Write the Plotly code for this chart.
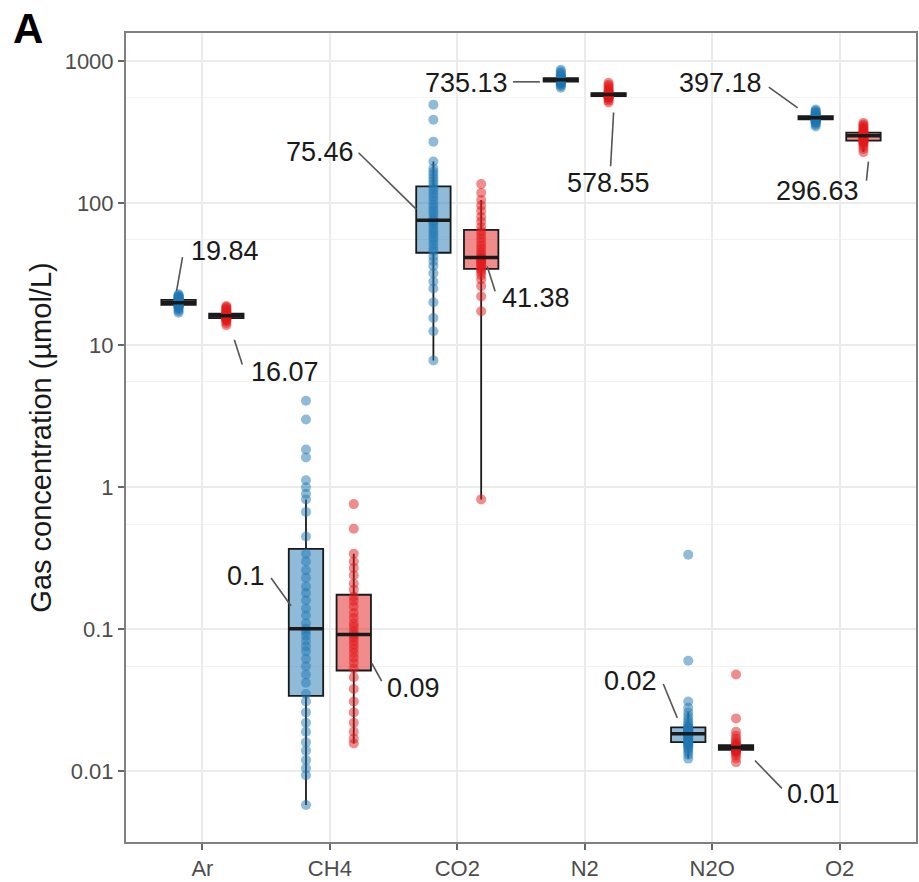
import numpy as np
import plotly.graph_objects as go

# ---------------- data ----------------
gases = ["Ar", "CH4", "CO2", "N2", "N2O", "O2"]

blue_ar = [16.9, 17.4, 17.8, 18.2, 18.5, 18.7, 18.9, 19.0, 19.1, 19.15, 19.2,
           19.3, 19.4, 19.45, 19.5, 19.6, 19.65, 19.7, 19.75, 19.8, 19.84,
           19.9, 20.0, 20.1, 20.2, 20.3, 20.4, 20.5, 20.6, 20.7, 20.8,
           20.9, 21.0, 21.1, 21.3, 21.5, 21.7, 21.9, 22.1, 22.4, 22.8]
red_ar = [13.8, 14.3, 14.7, 15.0, 15.2, 15.3, 15.4, 15.45, 15.5,
          15.6, 15.7, 15.8, 15.85, 15.9, 15.95, 16.0, 16.07,
          16.15, 16.2, 16.25, 16.3, 16.4, 16.45, 16.5, 16.6,
          16.8, 17.0, 17.3, 17.6, 17.9, 18.2, 18.5, 18.8]

blue_ch4 = [0.0058, 0.0094, 0.0105, 0.012, 0.014, 0.016, 0.019, 0.022, 0.026, 0.031, 0.035,
            0.042, 0.048, 0.055, 0.062, 0.07, 0.076, 0.083, 0.09, 0.096, 0.101,
            0.11, 0.125, 0.14, 0.16, 0.18, 0.2, 0.23, 0.26, 0.3, 0.34,
            0.45, 0.67, 0.82, 0.9, 1.0, 1.12, 1.62, 1.84, 2.99, 4.06]
red_ch4 = [0.0157, 0.017, 0.019, 0.022, 0.026, 0.031, 0.038, 0.046, 0.053,
           0.058, 0.063, 0.068, 0.073, 0.078, 0.083, 0.088, 0.092,
           0.097, 0.104, 0.11, 0.12, 0.13, 0.145, 0.158, 0.17,
           0.19, 0.21, 0.24, 0.27, 0.3, 0.34, 0.51, 0.76]

blue_co2 = [7.8, 12.5, 15.5, 20, 25, 28, 32, 36, 39, 42, 45.5,
            48, 51, 54, 57, 60, 63, 66, 70, 73, 75.46,
            79, 84, 88, 93, 98, 104, 110, 116, 123, 129,
            136, 143, 150, 158, 166, 175, 196, 270, 385, 492]
red_co2 = [0.82, 17.3, 22, 26, 29, 31, 32.5, 33.8, 34.6,
           35.5, 36.5, 37.5, 38.5, 39.5, 40.3, 40.9, 41.38,
           43, 45, 47.5, 50, 53, 56.5, 60, 63.5,
           68, 74, 80, 88, 96, 105, 118, 136]

blue_n2 = [648, 665, 680, 690, 698, 703, 707, 710, 712, 714, 716,
           718, 720, 722, 724, 726, 728, 730, 732, 734, 735.13,
           737, 739, 741, 743, 745, 747, 749, 751, 753, 755,
           758, 762, 767, 773, 780, 790, 805, 822, 843, 865]
red_n2 = [510, 525, 538, 548, 555, 559, 562, 564, 566,
          568, 570, 572, 573.5, 575, 576.5, 577.5, 578.55,
          580, 581.5, 583, 584.5, 586, 588, 590, 592,
          597, 605, 615, 628, 645, 662, 680, 700]

blue_n2o = [0.0123, 0.0131, 0.0137, 0.0142, 0.0146, 0.0150, 0.0153, 0.0156, 0.0158, 0.0160, 0.0161,
            0.0163, 0.0166, 0.0169, 0.0172, 0.0175, 0.0177, 0.0179, 0.0181, 0.0183, 0.0184,
            0.0186, 0.0188, 0.0190, 0.0192, 0.0194, 0.0196, 0.0198, 0.0200, 0.0202, 0.0203,
            0.0208, 0.0214, 0.0222, 0.0232, 0.0245, 0.026, 0.028, 0.031, 0.06, 0.335]
red_n2o = [0.0116, 0.0124, 0.013, 0.0134, 0.0137, 0.0139, 0.014, 0.0141, 0.0142,
           0.0143, 0.0144, 0.01445, 0.0145, 0.01455, 0.0146, 0.01465, 0.0147,
           0.01475, 0.0148, 0.01485, 0.0149, 0.01495, 0.0150, 0.0151, 0.0152,
           0.0155, 0.0159, 0.0164, 0.017, 0.0178, 0.019, 0.0236, 0.048]

blue_o2 = [345, 355, 362, 368, 372, 376, 379, 382, 384, 386, 388,
           389, 390.5, 391.5, 392.5, 393.5, 394.5, 395.5, 396.2, 396.8, 397.18,
           398, 399, 400, 401, 402, 403, 404, 405, 406, 407,
           409, 411, 414, 417, 421, 426, 432, 438, 446, 455]
red_o2 = [228, 240, 250, 258, 264, 268, 271, 273, 275,
          278, 281, 284, 287, 290, 292.5, 294.5, 296.63,
          298.5, 300.5, 302.5, 304.5, 306.5, 308.5, 310.5, 312,
          316, 321, 327, 334, 341, 349, 357, 366]

y_tick_vals = [0.01, 0.1, 1, 10, 100, 1000]
y_tick_text = ["0.01", "0.1", "1", "10", "100", "1000"]
y_minor_vals = [0.055, 0.55, 5.5, 55, 550]

blue_data = dict(zip(gases, [blue_ar, blue_ch4, blue_co2, blue_n2, blue_n2o, blue_o2]))
red_data = dict(zip(gases, [red_ar, red_ch4, red_co2, red_n2, red_n2o, red_o2]))

# ---------------- layout / styling ----------------
W, H = 919, 882
ML, MR, MT, MB = 126, 1, 33, 35
X_RANGE = [-0.6, 5.6]
Y_RANGE = [-2.497, 3.196]          # log10 units
PX_X = (W - ML - MR) / (X_RANGE[1] - X_RANGE[0])
PX_Y = (H - MT - MB) / (Y_RANGE[1] - Y_RANGE[0])

DODGE = 0.1875
BOX_W = 0.27
FONT = "Liberation Sans, Arial, sans-serif"
groups = [("blue", blue_data, -DODGE, "31,120,180"),
          ("red", red_data, DODGE, "227,26,28")]

# label placement (screen px, y down): text centre offset, leader start, leader end
label_style = {
    ("Ar", "blue"): ((46, -52), (4, -46), (-2, -12)),
    ("Ar", "red"): ((59, 56), (16, 49), (8, 24)),
    ("CH4", "blue"): ((-60, -53), (-35, -51), (-15, -23)),
    ("CH4", "red"): ((60, 54), (28, 47), (18, 29)),
    ("CO2", "blue"): ((-113, -68), (-75, -68), (-17, -11)),
    ("CO2", "red"): ((55, 41), (14, 34), (6, 9)),
    ("N2", "blue"): ((-94, 3), (-48, 2), (-21, 2)),
    ("N2", "red"): ((0, 88), (2, 72), (5, 18)),
    ("N2O", "blue"): ((-58, -53), (-25, -50), (-11, -16)),
    ("N2O", "red"): ((77, 46), (46, 41), (19, 13)),
    ("O2", "blue"): ((-95, -35), (-47, -31), (-18, -10)),
    ("O2", "red"): ((-46, 55), (3, 45), (5, 26)),
}


def offset_point(pos, med, dx, dy):
    """data position shifted by screen pixels (dy positive = down)"""
    return pos + dx / PX_X, 10 ** (np.log10(med) - dy / PX_Y)


fig = go.Figure()
annotations = []
shapes = []

for gname, data, off, rgb in groups:
    xs, ys = [], []
    for i, g in enumerate(gases):
        v = data[g]
        xs += [i + off] * len(v)
        ys += v
    fig.add_trace(go.Box(
        x=xs, y=ys, name=gname, width=BOX_W,
        boxpoints="all", jitter=0, pointpos=0, whiskerwidth=0,
        quartilemethod="linear",
        fillcolor=f"rgba({rgb},0.5)",
        line=dict(color="#1a1a1a", width=1.8),
        marker=dict(color=f"rgba({rgb},0.5)", size=10, line=dict(width=0)),
        showlegend=False, hoverinfo="y",
    ))
    for i, g in enumerate(gases):
        pos = i + off
        med = float(np.median(data[g]))
        # thick median bar (ggplot style)
        shapes.append(dict(type="line", xref="x", yref="y",
                           x0=pos - BOX_W / 2, x1=pos + BOX_W / 2, y0=med, y1=med,
                           line=dict(color="#1a1a1a", width=3.5)))
        txt = str(round(med, 2))
        (tdx, tdy), (sx, sy), (ex, ey) = label_style[(g, gname)]
        annotations.append(dict(
            x=pos, y=np.log10(med), xref="x", yref="y",
            text=txt, showarrow=False, xshift=tdx, yshift=-tdy,
            font=dict(size=27, color="#1a1a1a", family=FONT),
        ))
        x0, y0 = offset_point(pos, med, sx, sy)
        x1, y1 = offset_point(pos, med, ex, ey)
        shapes.append(dict(type="line", xref="x", yref="y",
                           x0=x0, y0=y0, x1=x1, y1=y1,
                           line=dict(color="#555555", width=1.6)))

annotations.append(dict(
    x=-0.146, y=1.006, xref="paper", yref="paper", xanchor="left", yanchor="middle",
    text="<b>A</b>", showarrow=False,
    font=dict(size=42, color="#000000", family=FONT),
))

fig.update_layout(
    width=W, height=H,
    margin=dict(l=ML, r=MR, t=MT, b=MB),
    paper_bgcolor="white", plot_bgcolor="white",
    font=dict(family=FONT),
    annotations=annotations, shapes=shapes,
    xaxis=dict(
        range=X_RANGE, tickmode="array", tickvals=list(range(len(gases))), ticktext=gases,
        showgrid=True, gridcolor="#ebebeb", gridwidth=1.5, zeroline=False,
        ticks="outside", ticklen=6, tickwidth=1.5, tickcolor="#666666",
        showline=True, linecolor="#808080", linewidth=2, mirror=True,
        tickfont=dict(size=22, color="#4d4d4d"),
    ),
    yaxis=dict(
        type="log", range=Y_RANGE,
        tickmode="array", tickvals=y_tick_vals, ticktext=y_tick_text,
        showgrid=True, gridcolor="#ebebeb", gridwidth=1.5, zeroline=False,
        ticks="outside", ticklen=6, tickwidth=1.5, tickcolor="#666666",
        showline=True, linecolor="#808080", linewidth=2, mirror=True,
        tickfont=dict(size=22, color="#4d4d4d"),
        minor=dict(tickmode="array", tickvals=y_minor_vals, showgrid=True,
                   gridcolor="#f2f2f2", gridwidth=1, ticks=""),
        title=dict(text="Gas concentration (µmol/L)", standoff=4,
                   font=dict(size=29, color="#1a1a1a")),
    ),
)

fig.write_html("out.html")
